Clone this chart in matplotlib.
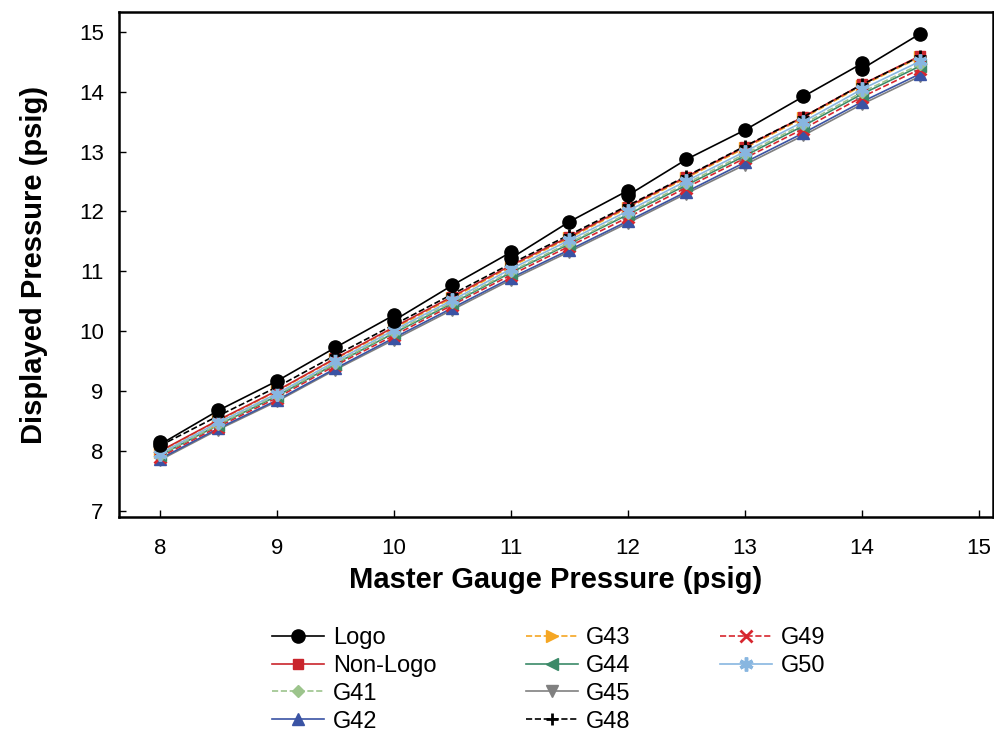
import numpy as np
import matplotlib
matplotlib.use('Agg')
import matplotlib.pyplot as plt
from matplotlib.lines import Line2D

plt.rcParams['font.family'] = ['Liberation Sans', 'DejaVu Sans']

# master gauge pressure (psig)
x = [8, 8.5, 9, 9.5, 10, 10.5, 11, 11.5, 12, 12.5, 13, 13.5, 14, 14.5]

# Logo has repeated readings at a few set points
x_logo = [8, 8, 8.5, 9, 9.5, 10, 10, 10.5, 11, 11, 11.5, 12, 12, 12.5, 13, 13.5, 14, 14, 14.5]
logo = [8.16, 8.11, 8.68, 9.17, 9.73, 10.27, 10.18, 10.77, 11.32, 11.22, 11.83,
        12.35, 12.27, 12.87, 13.36, 13.92, 14.47, 14.38, 14.97]

non_logo = [8.00, 8.52, 9.01, 9.55, 10.07, 10.58, 11.10, 11.58, 12.08, 12.58, 13.08, 13.58, 14.12, 14.60]
g41 = [7.94, 8.45, 8.94, 9.47, 9.99, 10.49, 11.00, 11.48, 11.97, 12.47, 12.96, 13.46, 13.99, 14.46]
g42 = [7.87, 8.38, 8.85, 9.38, 9.89, 10.39, 10.89, 11.36, 11.84, 12.33, 12.82, 13.31, 13.83, 14.30]
g43 = [7.99, 8.51, 9.00, 9.54, 10.05, 10.56, 11.08, 11.56, 12.06, 12.56, 13.06, 13.56, 14.10, 14.58]
g44 = [7.93, 8.44, 8.92, 9.46, 9.97, 10.47, 10.98, 11.46, 11.95, 12.44, 12.93, 13.43, 13.96, 14.43]
g45 = [7.85, 8.36, 8.83, 9.36, 9.86, 10.36, 10.86, 11.33, 11.81, 12.30, 12.78, 13.27, 13.79, 14.26]
g48 = [8.09, 8.59, 9.07, 9.60, 10.11, 10.62, 11.13, 11.61, 12.10, 12.59, 13.09, 13.58, 14.12, 14.59]
g49 = [7.90, 8.41, 8.89, 9.43, 9.93, 10.44, 10.94, 11.42, 11.90, 12.40, 12.89, 13.38, 13.91, 14.38]
g50 = [7.96, 8.48, 8.96, 9.50, 10.02, 10.52, 11.04, 11.52, 12.01, 12.51, 13.00, 13.50, 14.04, 14.51]

x_ticks = [8, 9, 10, 11, 12, 13, 14, 15]
y_ticks = [7, 8, 9, 10, 11, 12, 13, 14, 15]

fig = plt.figure(figsize=(9.95, 7.34), dpi=100)
ax = fig.add_axes([0.1196, 0.2956, 0.8784, 0.6881])

# drawn bottom-up so the top series sit on top
ax.plot(x, g45, color='#808080', lw=1.2, marker='v', ms=8, label='G45', zorder=2)
ax.plot(x, g42, color='#3a53a4', lw=1.2, marker='^', ms=8, label='G42', zorder=2)
ax.plot(x, g49, color='#d7262e', lw=1.2, ls='--', marker='x', ms=8, mew=2, label='G49', zorder=2)
ax.plot(x, g44, color='#3b8a68', lw=1.2, marker='<', ms=8, label='G44', zorder=2)
ax.plot(x, g41, color='#9cc48c', lw=1.2, ls='--', marker='D', ms=6, label='G41', zorder=2)
ax.plot(x, g50, color='#88b6e0', lw=1.2, marker=(6, 2, 0), ms=10, mew=2.5, label='G50', zorder=3)
ax.plot(x, g43, color='#f5a623', lw=1.2, ls='--', marker='>', ms=8, label='G43', zorder=2)
ax.plot(x, non_logo, color='#c9252c', lw=1.2, marker='s', ms=7, label='Non-Logo', zorder=2)
ax.plot(x, g48, color='black', lw=1.2, ls='--', marker='+', ms=9, mew=2, label='G48', zorder=2)
ax.plot(x_logo, logo, color='black', lw=1.2, marker='o', ms=9.5, label='Logo', zorder=4)

ax.set_xlim(7.65, 15.12)
ax.set_ylim(6.9, 15.33)
ax.set_xticks(x_ticks)
ax.set_yticks(y_ticks)
ax.tick_params(direction='in', length=5, width=1, labelsize=16)
ax.tick_params(axis='x', pad=15)
ax.tick_params(axis='y', pad=11)
for sp in ax.spines.values():
    sp.set_linewidth(1.8)

ax.set_xlabel('Master Gauge Pressure (psig)', fontsize=21, fontweight='bold', labelpad=5)
ax.set_ylabel('Displayed Pressure (psig)', fontsize=21, fontweight='bold', labelpad=22)

# legend order, filled column by column (4 rows)
order = ['Logo', 'Non-Logo', 'G41', 'G42', 'G43', 'G44', 'G45', 'G48', 'G49', 'G50']
hmap = {l.get_label(): l for l in ax.get_lines()}
handles = [hmap[k] for k in order]
labels = list(order)
blank = Line2D([], [], color='none')
handles += [blank, blank]
labels += ['', '']
fig.legend(handles, labels, loc='upper left', bbox_to_anchor=(0.262, 0.162),
           ncol=3, frameon=False, fontsize=17, handlelength=2.2,
           labelspacing=0.25, columnspacing=3.8, handletextpad=0.35, borderpad=0)

fig.savefig('out.png', dpi=100)
